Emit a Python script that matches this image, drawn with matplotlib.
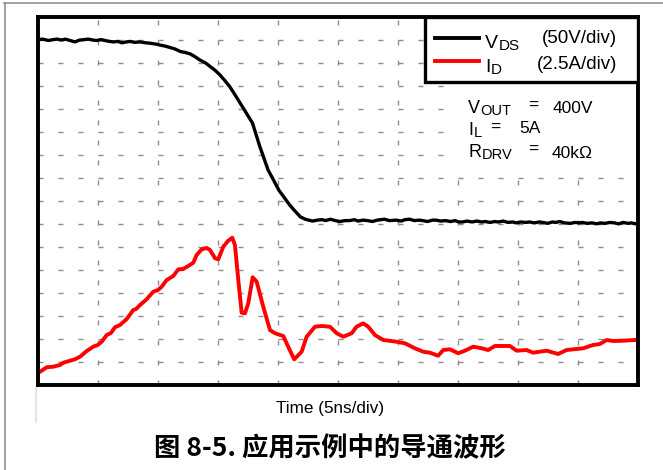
import numpy as np
import matplotlib
matplotlib.use("Agg")
import matplotlib.pyplot as plt
from matplotlib.lines import Line2D
from matplotlib.patches import Rectangle

plt.rcParams['font.family'] = ['Liberation Sans', 'DejaVu Sans']

# scope settings: 10 x 16 divisions
NS_PER_DIV = 5
V_PER_DIV = 50
A_PER_DIV = 2.5

# V_DS trace (time in ns, volts)
t_vds = [0.0, 0.4, 0.9, 1.3, 1.6, 2.0, 2.3, 2.7, 3.1, 3.5,
         3.9, 4.2, 4.6, 4.9, 5.3, 5.6, 6.0, 6.3, 6.7, 7.0,
         7.4, 7.7, 8.1, 8.5, 9.0, 9.4, 9.9, 10.2, 10.6, 11.0,
         11.4, 11.9, 12.3, 12.7, 13.1, 13.5, 14.0, 14.4, 14.8, 15.2,
         15.6, 16.0, 16.4, 16.9, 17.4, 17.9, 18.5, 19.2, 19.7, 20.1,
         20.6, 21.0, 21.4, 21.9, 22.3, 22.9, 23.3, 23.7, 24.0, 24.4,
         24.8, 25.2, 25.6, 26.0, 26.4, 26.7, 27.1, 27.5, 27.9, 28.3,
         28.9, 29.3, 29.9, 30.3, 30.6, 31.0, 31.4, 31.8, 32.1, 32.5,
         32.9, 33.2, 33.6, 34.0, 34.4, 34.8, 35.1, 35.4, 35.8, 36.2,
         36.6, 37.0, 37.3, 37.7, 38.1, 38.4, 38.8, 39.2, 39.6, 39.9,
         40.3, 40.7, 41.0, 41.4, 41.8, 42.1, 42.5, 42.9, 43.2, 43.5,
         43.9, 44.4, 44.8, 45.1, 45.4, 45.8, 46.2, 46.6, 46.9, 47.3,
         47.7, 48.1, 48.4, 48.8, 49.2, 49.5, 49.8, 50.0]
vds = [401, 402, 399, 401, 402, 400, 402, 399, 396, 400,
       401, 402, 400, 399, 401, 399, 397, 396, 397, 394,
       396, 397, 395, 396, 394, 393, 391, 389, 387, 384,
       381, 375, 373, 370, 364, 357, 350, 342, 334, 324,
       312, 299, 283, 262, 241, 220, 170, 118, 94, 74,
       56, 42, 30, 16, 11, 7, 9, 10, 8, 11,
       8, 6, 8, 8, 10, 7, 9, 8, 6, 9,
       11, 8, 9, 7, 10, 11, 8, 9, 8, 6,
       9, 9, 7, 8, 6, 8, 5, 5, 7, 5,
       7, 5, 6, 4, 6, 5, 7, 4, 5, 3,
       5, 4, 5, 3, 5, 4, 2, 5, 4, 6,
       3, 2, 4, 3, 4, 2, 3, 1, 3, 2,
       4, 3, 1, 4, 2, 3, 1, 2]

# I_D trace (time in ns, amps)
t_id = [0.0, 0.2, 0.75, 1.3, 1.86, 2.13, 2.69, 3.1, 3.53, 4.08,
        4.63, 5.0, 5.33, 5.75, 6.1, 6.44, 6.86, 7.42, 7.97, 8.2,
        8.53, 9.08, 9.63, 10.0, 10.33, 10.75, 11.3, 11.72, 12.13, 12.55,
        12.97, 13.25, 13.67, 14.08, 14.36, 14.78, 15.05, 15.47, 15.88, 16.22,
        16.44, 16.72, 17.0, 17.28, 17.55, 17.92, 18.25, 18.8, 19.36, 19.78,
        20.47, 20.88, 21.38, 22.0, 22.42, 23.11, 23.67, 24.36, 24.92, 25.47,
        26.17, 26.58, 27.13, 27.55, 28.11, 28.8, 29.92, 30.61, 31.44, 32.13,
        32.69, 33.38, 33.8, 34.36, 35.05, 35.61, 36.3, 37.0, 37.55, 38.11,
        39.36, 39.92, 40.75, 41.3, 42.42, 43.38, 44.08, 45.47, 46.3, 46.86,
        47.42, 47.97, 48.8, 49.78, 50.0]
i_d = [1.40, 1.50, 1.98, 2.04, 2.23, 2.47, 2.69, 2.85, 3.13, 3.74,
       4.21, 4.40, 4.75, 5.48, 5.70, 6.32, 6.57, 7.22, 8.20, 8.30,
       8.74, 9.36, 10.18, 10.35, 10.72, 11.45, 11.89, 12.61, 12.65, 12.97,
       13.33, 14.17, 14.78, 14.93, 14.71, 13.81, 13.70, 15.07, 15.72, 16.04,
       15.25, 11.45, 7.90, 7.84, 8.92, 11.75, 11.27, 8.55, 6.02, 5.67,
       5.37, 4.21, 2.84, 3.67, 5.30, 6.38, 6.46, 6.38, 5.67, 5.30,
       5.67, 6.38, 6.75, 6.38, 5.48, 4.94, 4.75, 4.58, 4.04, 3.67,
       3.56, 3.23, 3.85, 3.93, 3.50, 3.78, 4.21, 4.04, 3.85, 4.29,
       4.29, 3.78, 3.85, 3.56, 3.78, 3.42, 3.85, 4.04, 4.40, 4.50,
       4.94, 4.83, 4.86, 4.94, 4.94]

legend_names = [('V', 'DS'), ('I', 'D')]
legend_scales = ['(50V/div)', '(2.5A/div)']
cond_names = [('V', 'OUT'), ('I', 'L'), ('R', 'DRV')]
cond_values = ['400V', '5A', '40k\u03a9']

fig = plt.figure(figsize=(6.63, 4.70), dpi=100)
ax = fig.add_axes([0.0569, 0.1798, 0.9047, 0.7840])

# V_DS zero sits 7 divisions up, I_D zero at the bottom line
ax.set_xlim(0, 10 * NS_PER_DIV)
ax.set_ylim(-7 * V_PER_DIV, 9 * V_PER_DIV)
ax.set_xticks(np.arange(1, 10) * NS_PER_DIV)
ax.set_yticks(np.arange(-6, 9) * V_PER_DIV)
ax.tick_params(length=0, labelleft=False, labelbottom=False)
ax.grid(True, color='#8c8c8c', linewidth=1.0, linestyle=(0, (3.6, 10.8)))
ax.set_axisbelow(True)
for s in ax.spines.values():
    s.set_visible(False)

ax.plot(t_vds, vds, color='black', linewidth=2.4, solid_joinstyle='round')

ax2 = ax.twinx()
ax2.set_ylim(0, 16 * A_PER_DIV)
ax2.set_yticks([])
ax2.plot(t_id, i_d, color='#ff0000', linewidth=2.8, solid_joinstyle='round')
for s in ax2.spines.values():
    s.set_linewidth(2.8)
    s.set_color('black')


def sub_label(x, y, base, sub, size, sub_size):
    # letter with a subscript hung off its lower right corner
    t = ax2.text(x, y, base, transform=ax2.transAxes, fontsize=size,
                 va='baseline', zorder=6)
    ax2.annotate(sub, xy=(1, 0), xycoords=t, xytext=(0.3, -0.6),
                 textcoords='offset points', fontsize=sub_size, va='bottom', zorder=6)


# legend box in the upper right corner
ax2.add_patch(Rectangle((0.6457, 0.8236), 0.3543, 0.1764, transform=ax2.transAxes,
                        facecolor='white', edgecolor='black', linewidth=2.4, zorder=5))
for y, c in zip([0.9421, 0.8814], ['black', '#ff0000']):
    ax2.add_line(Line2D([0.6624, 0.7357], [y, y], transform=ax2.transAxes,
                        color=c, linewidth=2.8, zorder=6))
for (b, s), yl in zip(legend_names, [0.915, 0.8516]):
    sub_label(0.7458, yl, b, s, 14, 11)
for sc, x, ys in zip(legend_scales, [0.8403, 0.8319], [0.9286, 0.8589]):
    ax2.text(x, ys, sc, transform=ax2.transAxes, fontsize=13.5, va='baseline', zorder=6)

# test conditions
ax2.add_patch(Rectangle((0.696, 0.59), 0.289, 0.2336, transform=ax2.transAxes,
                        facecolor='white', edgecolor='none', zorder=4))
name_y = [0.7387, 0.6798, 0.6209]
value_x = [0.858, 0.803, 0.857]
value_y = [0.7387, 0.686, 0.6165]
eq_x = [0.8175, 0.754, 0.8175]
for (b, s), ny, v, vx, vy, ex in zip(cond_names, name_y, cond_values, value_x, value_y, eq_x):
    sub_label(0.7179, ny, b, s, 13, 10.5)
    ax2.text(ex, ny + 0.008, '=', transform=ax2.transAxes, fontsize=12.5, va='baseline', zorder=6)
    ax2.text(vx, vy, v, transform=ax2.transAxes, fontsize=12.5, va='baseline', zorder=6)

fig.text(0.4985, 0.130, 'Time (5ns/div)', fontsize=12.3, ha='center', va='center')
fig.text(0.4975, 0.046, '图 8-5. 应用示例中的导通波形', fontsize=19, fontweight='bold',
         ha='center', va='center', family=['Noto Sans CJK SC', 'DejaVu Sans'])

# page edges
fig.add_artist(Line2D([4 / 663, 1], [1 - 3 / 470, 1 - 3 / 470], transform=fig.transFigure,
                      color='#909090', linewidth=1.2))
fig.add_artist(Line2D([5 / 663, 5 / 663], [0, 1 - 3 / 470], transform=fig.transFigure,
                      color='#909090', linewidth=1.2))
fig.add_artist(Line2D([36 / 663, 36 / 663], [82 / 470, 48 / 470], transform=fig.transFigure,
                      color='#e6e6e6', linewidth=1.5))

fig.savefig('out.png', dpi=100)
